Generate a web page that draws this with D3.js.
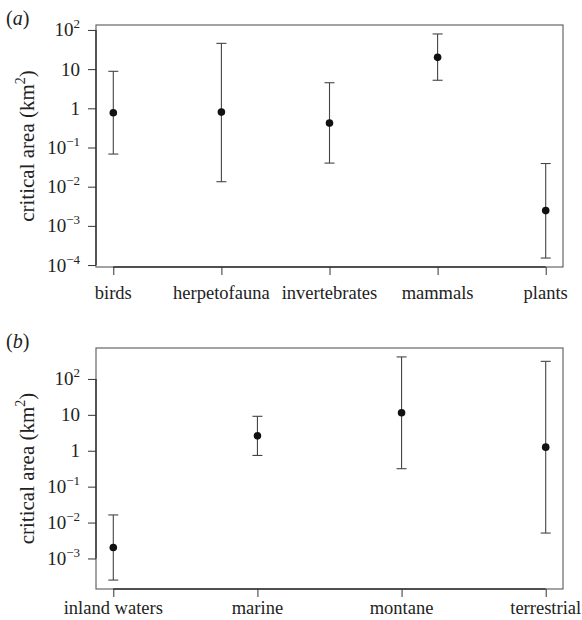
<!DOCTYPE html>
<html>
<head>
<meta charset="utf-8">
<script src="https://cdn.jsdelivr.net/npm/d3@7"></script>
<style>
  body { margin: 0; background: #fff; }
</style>
</head>
<body>
<svg id="chart" width="582" height="620"></svg>
<script>
// panel (a): taxonomic groups
const groupsA = ["birds", "herpetofauna", "invertebrates", "mammals", "plants"];
const medianA = [0.77, 0.8, 0.42, 20, 0.00245];
const lowerA = [0.068, 0.0134, 0.040, 5.2, 0.000151];
const upperA = [8.8, 45.5, 4.5, 79, 0.039];
const yTicksA = [1e-4, 1e-3, 1e-2, 1e-1, 1, 10, 100];
const yLabelsA = ["10^-4", "10^-3", "10^-2", "10^-1", "1", "10", "10^2"];

// panel (b): biomes
const groupsB = ["inland waters", "marine", "montane", "terrestrial"];
const medianB = [0.00202, 2.6, 11.4, 1.26];
const lowerB = [0.00025, 0.74, 0.316, 0.0051];
const upperB = [0.0163, 9.1, 410, 309];
const yTicksB = [1e-3, 1e-2, 1e-1, 1, 10, 100];
const yLabelsB = ["10^-3", "10^-2", "10^-1", "1", "10", "10^2"];

const svg = d3.select('#chart');
const labels = [];   // text is drawn last, straight onto the svg

function addText(x, y, size, parts, opts = {}) {
    labels.push({x, y, size, parts, opts});
}

function supParts(label) {
    const p = label.split('^');
    return p.length > 1 ? [[p[0]], [p[1].replace('-', '\u2212'), 'sup']] : [[p[0]]];
}

function panel(opt) {
    const {top, bottom, left, right, groups, median, lower, upper, yTicks, yLabels, tag, labelGap} = opt;
    const n = groups.length;

    // R style 4% padding of the data range
    const logs = lower.concat(upper).map(Math.log10);
    const lo = d3.min(logs), hi = d3.max(logs);
    const pad = (hi - lo) * 0.04;
    const y = d3.scaleLog().domain([10 ** (lo - pad), 10 ** (hi + pad)]).range([bottom, top]);
    const xPad = (n - 1) * 0.04;
    const x = d3.scaleLinear().domain([1 - xPad, n + xPad]).range([left, right]);

    const g = svg.append('g');

    g.append('rect')
        .attr('x', left).attr('y', top)
        .attr('width', right - left).attr('height', bottom - top)
        .attr('fill', 'none')
        .attr('stroke', '#666')
        .attr('stroke-width', 1.2);

    const yAxis = g.append('g')
        .attr('transform', `translate(${left},0)`)
        .call(d3.axisLeft(y).tickValues(yTicks).tickSize(8).tickSizeOuter(0).tickFormat(''));
    yAxis.select('.domain').attr('d', `M0,${y(yTicks[0])}V${y(yTicks[yTicks.length - 1])}`)
        .attr('stroke', '#333').attr('stroke-width', 1.4);
    yAxis.selectAll('.tick line').attr('stroke', '#333');
    yAxis.selectAll('.tick text').remove();
    yTicks.forEach((v, i) => addText(left - 16, y(v) + 6.5, 19, supParts(yLabels[i]), {anchor: 'end'}));

    const idx = d3.range(1, n + 1);
    const xAxis = g.append('g')
        .attr('transform', `translate(0,${bottom})`)
        .call(d3.axisBottom(x).tickValues(idx).tickSize(8).tickSizeOuter(0).tickFormat(''));
    xAxis.select('.domain').attr('d', `M${x(1)},0H${x(n)}`)
        .attr('stroke', '#333').attr('stroke-width', 1.4);
    xAxis.selectAll('.tick line').attr('stroke', '#333');
    xAxis.selectAll('.tick text').remove();
    idx.forEach((v, i) => addText(x(v), bottom + labelGap, 18.5, [[groups[i]]], {anchor: 'middle'}));

    // error bars
    const bars = g.selectAll('.bar')
        .data(groups)
        .enter()
        .append('g')
        .attr('class', 'bar');

    bars.append('line')
        .attr('x1', (d, i) => x(i + 1)).attr('x2', (d, i) => x(i + 1))
        .attr('y1', (d, i) => y(lower[i])).attr('y2', (d, i) => y(upper[i]))
        .attr('stroke', '#444').attr('stroke-width', 1.1);
    [lower, upper].forEach(arr => {
        bars.append('line')
            .attr('x1', (d, i) => x(i + 1) - 5).attr('x2', (d, i) => x(i + 1) + 5)
            .attr('y1', (d, i) => y(arr[i])).attr('y2', (d, i) => y(arr[i]))
            .attr('stroke', '#444').attr('stroke-width', 1.1);
    });
    bars.append('circle')
        .attr('cx', (d, i) => x(i + 1))
        .attr('cy', (d, i) => y(median[i]))
        .attr('r', 3.8)
        .attr('fill', '#111');

    addText(34, (top + bottom) / 2, 21, [['critical area (km'], ['2', 'sup'], [')', 'down']],
        {anchor: 'middle', rotate: true});
    addText(6, top, 20, [['('], [tag, 'italic'], [')']], {anchor: 'start'});
}

panel({top: 25, bottom: 267, left: 96, right: 563,
    groups: groupsA, median: medianA, lower: lowerA, upper: upperA,
    yTicks: yTicksA, yLabels: yLabelsA, tag: 'a', labelGap: 32});

panel({top: 348, bottom: 589, left: 96, right: 563,
    groups: groupsB, median: medianB, lower: lowerB, upper: upperB,
    yTicks: yTicksB, yLabels: yLabelsB, tag: 'b', labelGap: 25});

labels.forEach(l => {
    const t = svg.append('text')
        .style('font-family', '"Liberation Serif", "Times New Roman", serif', 'important')
        .style('font-size', l.size + 'px')
        .attr('fill', '#222')
        .attr('text-anchor', l.opts.anchor);
    if (l.opts.rotate) t.attr('transform', `translate(${l.x},${l.y}) rotate(-90)`);
    else t.attr('x', l.x).attr('y', l.y);
    l.parts.forEach(([s, kind]) => {
        const sp = t.append('tspan').text(s)
            .style('font-family', '"Liberation Serif", "Times New Roman", serif', 'important');
        if (kind === 'sup') sp.attr('dy', -0.42 * l.size).style('font-size', Math.round(l.size * 0.68) + 'px');
        if (kind === 'down') sp.attr('dy', 0.42 * l.size);
        if (kind === 'italic') sp.style('font-style', 'italic');
    });
});
</script>
</body>
</html>
